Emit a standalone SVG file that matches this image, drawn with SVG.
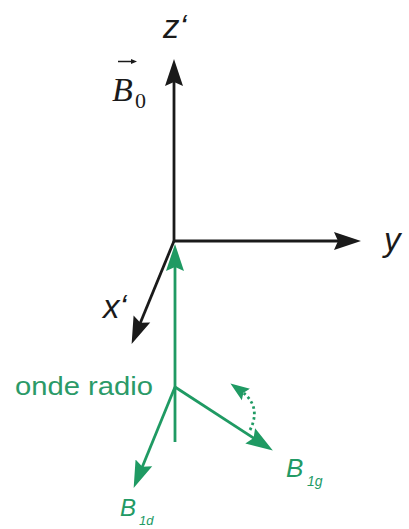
<svg xmlns="http://www.w3.org/2000/svg" width="409" height="529" viewBox="0 0 409 529">
<style>
.ax{stroke:#1a1a1a;stroke-width:2.8;fill:none}
.gr{stroke:#1f9a63;stroke-width:2.8;fill:none}
.lbl{font-family:"Liberation Sans",Arial,sans-serif;font-style:italic;font-size:33px;fill:#1a1a1a}
.glbl{font-family:"Liberation Sans",Arial,sans-serif;font-style:italic;fill:#229a65}
.gtxt{font-family:"Liberation Sans",Arial,sans-serif;font-size:26px;fill:#2b9a68}
.serif{font-family:"Liberation Serif","Times New Roman",serif;fill:#1a1a1a}
</style>
<defs>
<marker id="ab" markerUnits="userSpaceOnUse" orient="auto" markerWidth="30" markerHeight="22" refX="10" refY="0" viewBox="0 -11 30 22">
<path d="M0,-9 L27,0 L0,9 L4,0 z" fill="#1a1a1a"/>
</marker>
<marker id="ag" markerUnits="userSpaceOnUse" orient="auto" markerWidth="30" markerHeight="22" refX="10" refY="0" viewBox="0 -11 30 22">
<path d="M0,-9 L27,0 L0,9 L4,0 z" fill="#1f9a63"/>
</marker>
<marker id="ags" markerUnits="userSpaceOnUse" orient="auto" markerWidth="24" markerHeight="16" refX="6" refY="0" viewBox="0 -8 24 16">
<path d="M0,-7 L19,0 L0,7 L3,0 z" fill="#1f9a63"/>
</marker>
<marker id="ah" markerUnits="userSpaceOnUse" orient="auto" markerWidth="8" markerHeight="8" refX="0" refY="0" viewBox="0 -4 8 8">
<path d="M0,-2.5 L6,0 L0,2.5 z" fill="#1a1a1a"/>
</marker>
</defs>
<g id="connectors">
<line class="ax" x1="174" y1="242" x2="174" y2="76" marker-end="url(#ab)"/>
<line class="ax" x1="173" y1="241" x2="344" y2="241" marker-end="url(#ab)"/>
<line class="ax" x1="174" y1="241" x2="138.1" y2="328.2" marker-end="url(#ab)"/>
<line class="gr" x1="175" y1="442" x2="175" y2="261" marker-end="url(#ag)"/>
<line class="gr" x1="175" y1="387" x2="140.1" y2="472.2" marker-end="url(#ag)"/>
<line class="gr" x1="175" y1="387" x2="258.6" y2="441.3" marker-end="url(#ag)"/>
<path class="gr" d="M250,430 Q262,406 241,391" stroke-dasharray="2.5 3" marker-end="url(#ags)"/>
</g>
<g id="label-z">
<text class="lbl" x="163" y="38">z‘</text>
</g>
<g id="label-y">
<text class="lbl" x="384" y="251">y</text>
</g>
<g id="label-x">
<text class="lbl" x="103" y="318">x‘</text>
</g>
<g id="label-B0">
<text class="serif" x="112" y="101" font-size="34" style="font-style:italic">B</text>
<text class="serif" x="135" y="108" font-size="22">0</text>
<line x1="118" y1="61.5" x2="131" y2="61.5" stroke="#1a1a1a" stroke-width="1.5" marker-end="url(#ah)"/>
</g>
<g id="label-onde">
<text class="gtxt" x="15" y="395" textLength="138" lengthAdjust="spacingAndGlyphs">onde radio</text>
</g>
<g id="label-B1g">
<text class="glbl" x="286" y="477" font-size="26">B</text>
<text class="glbl" x="307" y="486" font-size="14">1g</text>
</g>
<g id="label-B1d">
<text class="glbl" x="120" y="516" font-size="24">B</text>
<text class="glbl" x="139" y="525" font-size="13">1d</text>
</g>
</svg>
